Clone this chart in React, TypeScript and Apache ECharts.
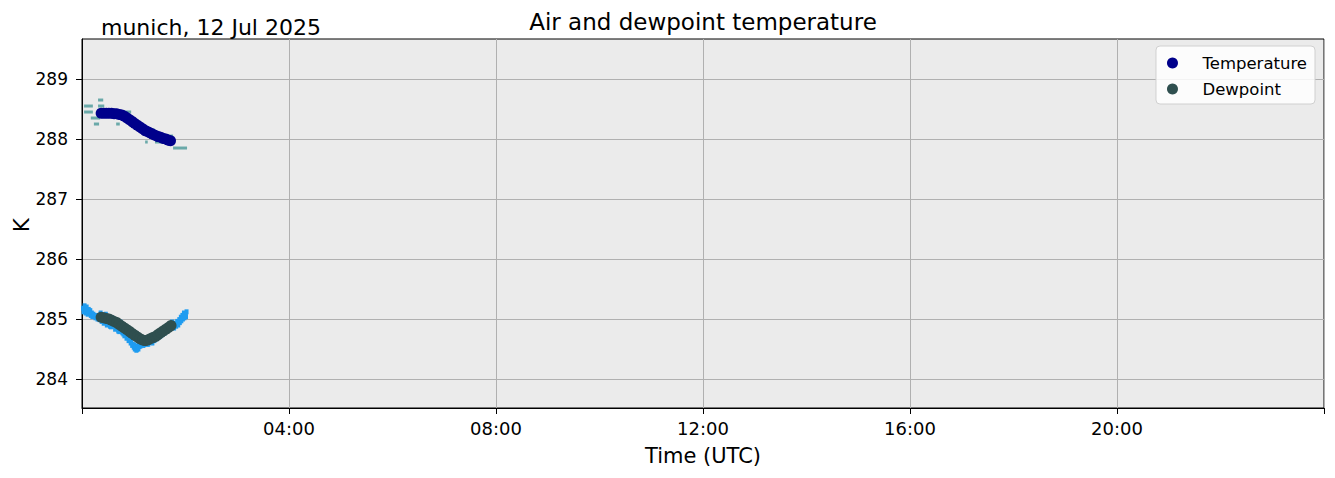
import React, { useEffect, useRef } from "react";
import * as echarts from "echarts";

// Time in hours (UTC), values in K
const tempTimes = [0.37, 0.42, 0.47, 0.52, 0.57, 0.62, 0.67, 0.72, 0.77, 0.82, 0.87, 0.92, 0.97, 1.02, 1.07, 1.12, 1.17, 1.22, 1.27, 1.32, 1.37, 1.42, 1.47, 1.52, 1.57, 1.62, 1.67, 1.71];
const tempValues = [288.43, 288.43, 288.43, 288.43, 288.43, 288.42, 288.42, 288.41, 288.40, 288.38, 288.35, 288.32, 288.29, 288.26, 288.23, 288.20, 288.17, 288.14, 288.12, 288.10, 288.08, 288.06, 288.04, 288.03, 288.01, 288.00, 287.98, 287.97];

const dewTimes = [0.37, 0.42, 0.47, 0.52, 0.57, 0.62, 0.67, 0.72, 0.77, 0.82, 0.87, 0.92, 0.97, 1.02, 1.07, 1.12, 1.17, 1.22, 1.27, 1.32, 1.37, 1.42, 1.47, 1.52, 1.57, 1.62, 1.67, 1.72];
const dewValues = [285.03, 285.02, 285.01, 285.00, 284.98, 284.96, 284.94, 284.91, 284.88, 284.85, 284.82, 284.79, 284.76, 284.73, 284.70, 284.67, 284.65, 284.64, 284.65, 284.67, 284.69, 284.71, 284.74, 284.77, 284.80, 284.83, 284.86, 284.89];

// raw temperature samples: [start hour, end hour, value]
const rawTempSegments = [
  [0.04, 0.21, 288.55], [0.04, 0.21, 288.45], [0.17, 0.35, 288.35], [0.23, 0.33, 288.25],
  [0.31, 0.41, 288.65], [0.31, 0.43, 288.55], [0.35, 0.73, 288.45], [0.66, 0.73, 288.25],
  [0.73, 0.95, 288.45], [0.95, 1.10, 288.25], [1.10, 1.24, 288.15], [1.22, 1.27, 287.95],
  [1.28, 1.41, 288.15], [1.41, 1.57, 287.95], [1.57, 1.66, 288.05], [1.66, 1.76, 288.05],
  [1.76, 2.03, 287.85],
];

// raw dewpoint samples: [hour, value]
const rawDewPoints = [
  [0.02, 285.18], [0.03, 285.12], [0.05, 285.22], [0.06, 285.15], [0.07, 285.10], [0.09, 285.20],
  [0.10, 285.13], [0.11, 285.08], [0.13, 285.16], [0.14, 285.11], [0.16, 285.14], [0.17, 285.06],
  [0.19, 285.10], [0.20, 285.04], [0.22, 285.08], [0.24, 285.05], [0.26, 285.02], [0.28, 285.06],
  [0.30, 285.00], [0.32, 285.04], [0.34, 284.99], [0.36, 285.10], [0.38, 284.96], [0.40, 285.03],
  [0.42, 284.93], [0.44, 284.95], [0.46, 285.08], [0.48, 284.90], [0.50, 284.99], [0.52, 284.92],
  [0.54, 284.88], [0.56, 284.87], [0.58, 285.02], [0.60, 284.88], [0.62, 284.95], [0.64, 284.83],
  [0.66, 284.86], [0.68, 284.84], [0.70, 284.80], [0.72, 284.79], [0.74, 284.95], [0.76, 284.82],
  [0.78, 284.77], [0.80, 284.75], [0.82, 284.72], [0.84, 284.73], [0.86, 284.68], [0.88, 284.69],
  [0.90, 284.64], [0.92, 284.65], [0.94, 284.60], [0.95, 284.62], [0.97, 284.56], [0.98, 284.58],
  [1.00, 284.53], [1.01, 284.57], [1.02, 284.50], [1.03, 284.54], [1.04, 284.55], [1.05, 284.48],
  [1.06, 284.49], [1.07, 284.52], [1.08, 284.53], [1.09, 284.50], [1.10, 284.57], [1.11, 284.54],
  [1.13, 284.55], [1.15, 284.58], [1.16, 284.59], [1.18, 284.56], [1.20, 284.57], [1.22, 284.60],
  [1.24, 284.60], [1.26, 284.58], [1.28, 284.58], [1.30, 284.61], [1.32, 284.62], [1.34, 284.63],
  [1.36, 284.60], [1.38, 284.65], [1.40, 284.64], [1.42, 284.68], [1.44, 284.67], [1.46, 284.69],
  [1.48, 284.70], [1.50, 284.72], [1.52, 284.72], [1.54, 284.74], [1.56, 284.75], [1.58, 284.77],
  [1.60, 284.77], [1.62, 284.80], [1.64, 284.80], [1.66, 284.82], [1.68, 284.84], [1.70, 284.86],
  [1.72, 284.87], [1.74, 284.95], [1.76, 284.90], [1.78, 284.85], [1.80, 284.93], [1.82, 284.88],
  [1.84, 284.96], [1.86, 284.90], [1.88, 284.99], [1.89, 284.94], [1.91, 285.03], [1.92, 284.97],
  [1.94, 285.06], [1.95, 285.00], [1.97, 285.10], [1.98, 285.02], [2.00, 285.07], [2.02, 285.12],
  [2.01, 285.04],
];

const yTicks = [284, 285, 286, 287, 288, 289];
const titleText = "Air and dewpoint temperature";
const subtitleText = "munich, 12 Jul 2025";
const xName = "Time (UTC)";
const yName = "K";

const FONT = "DejaVu Sans";

export default function App() {
  const ref = useRef<HTMLDivElement>(null);
  useEffect(() => {
    if (!ref.current) return;
    const chart = echarts.init(ref.current, undefined, { renderer: "svg" });
    const tempData = tempTimes.map((t, i) => [t, tempValues[i]]);
    const dewData = dewTimes.map((t, i) => [t, dewValues[i]]);
    const segRender = (color: string) => (params: any, api: any) => {
      const s = api.coord([api.value(0), api.value(2)]);
      const e = api.coord([api.value(1), api.value(2)]);
      return {
        type: "rect",
        shape: { x: s[0], y: s[1] - 1.5, width: Math.max(2, e[0] - s[0]), height: 3 },
        style: { fill: color },
      };
    };
    chart.setOption({
      animation: false,
      backgroundColor: "#ffffff",
      textStyle: { fontFamily: FONT },
      grid: {
        left: 82, right: 11, top: 39, bottom: 70,
        show: true, backgroundColor: "#EBEBEB", borderColor: "#000", borderWidth: 1,
      },
      xAxis: {
        type: "value", min: 0, max: 24, interval: 4,
        axisLine: { show: true, lineStyle: { color: "#000", width: 1 } },
        axisTick: { show: true, length: 6, lineStyle: { color: "#000" } },
        axisLabel: {
          fontFamily: FONT, fontSize: 18, color: "#000", margin: 11,
          formatter: (v: number) => (v === 0 || v === 24 ? "" : String(v).padStart(2, "0") + ":00"),
        },
        splitLine: { show: true, lineStyle: { color: "#b0b0b0", width: 1 } },
      },
      yAxis: {
        type: "value", min: 283.517, max: 289.667,
        axisLine: { show: true, lineStyle: { color: "#000", width: 1 } },
        axisTick: { show: true, length: 6, lineStyle: { color: "#000" }, customValues: yTicks },
        axisLabel: { fontFamily: FONT, fontSize: 17, color: "#000", margin: 14, customValues: yTicks, formatter: (v: number) => String(Math.round(v)) },
        splitLine: { show: true, lineStyle: { color: "#b0b0b0", width: 1 } },
      },
      legend: {
        data: ["Temperature", "Dewpoint"],
        orient: "vertical",
        right: 20, top: 46,
        icon: "circle",
        itemWidth: 26, itemHeight: 11, itemGap: 6,
        padding: [7, 8, 5, 11],
        backgroundColor: "rgba(255,255,255,0.85)",
        borderColor: "#d0d0d0", borderWidth: 1, borderRadius: 4,
        textStyle: { fontFamily: FONT, fontSize: 16.5, color: "#000", lineHeight: 20, padding: [0, 0, 0, 12] },
      },
      graphic: [
        { type: "text", x: 703, y: 22, style: { text: titleText, font: `23px "${FONT}"`, fill: "#000", textAlign: "center", textVerticalAlign: "middle" } },
        { type: "text", x: 101, y: 27, style: { text: subtitleText, font: `22px "${FONT}"`, fill: "#000", textAlign: "left", textVerticalAlign: "middle" } },
        { type: "text", x: 703, y: 456, style: { text: xName, font: `21px "${FONT}"`, fill: "#000", textAlign: "center", textVerticalAlign: "middle" } },
        { type: "text", x: 22, y: 225, rotation: Math.PI / 2, style: { text: yName, font: `21px "${FONT}"`, fill: "#000", textAlign: "center", textVerticalAlign: "middle" } },
      ],
      series: [
        {
          name: "Temperature raw", type: "custom", data: rawTempSegments,
          encode: { x: [0, 1], y: 2 }, renderItem: segRender("#6aa9a9"), silent: true, z: 1,
        },
        {
          name: "Dewpoint raw", type: "scatter", data: rawDewPoints,
          symbol: "rect", symbolSize: [4, 5], itemStyle: { color: "#1f9cf0", opacity: 1 }, silent: true, z: 1,
        },
        {
          name: "Temperature", type: "scatter", data: tempData,
          symbol: "circle", symbolSize: 11, itemStyle: { color: "#00008B", opacity: 1 }, z: 3,
        },
        {
          name: "Dewpoint", type: "scatter", data: dewData,
          symbol: "circle", symbolSize: 11, itemStyle: { color: "#2F4F4F", opacity: 1 }, z: 3,
        },
      ],
    });
    return () => chart.dispose();
  }, []);
  return <div ref={ref} style={{ position: "absolute", left: 0, top: 0, width: 1335, height: 478 }} />;
}
